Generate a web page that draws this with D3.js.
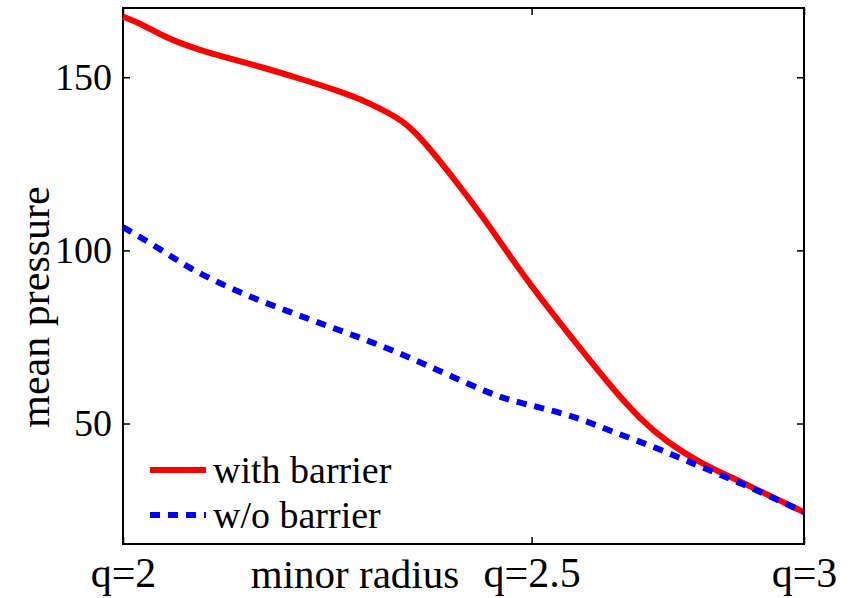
<!DOCTYPE html>
<html>
<head>
<meta charset="utf-8">
<script src="https://cdn.jsdelivr.net/npm/d3@7"></script>
<style>
  body { margin: 0; background: #fff; }
  text { font-family: "Liberation Serif", "Times New Roman", serif; fill: #000; }
</style>
</head>
<body>
<div id="chart"></div>
<script>
// normalized minor radius (0 = q=2 surface, 1 = q=3 surface)
let radius = [0, 0.025, 0.054, 0.084, 0.113, 0.142, 0.201, 0.260, 0.319, 0.348, 0.377, 0.407,
  0.432, 0.480, 0.529, 0.579, 0.627, 0.671, 0.715, 0.759, 0.799, 0.847, 0.896, 0.946, 1.0];
let withBarrier = [167.5, 165.6, 162.4, 159.8, 157.9, 156.2, 153.1, 149.6, 145.9, 143.7, 141.0, 137.9,
  133.8, 122.3, 109.6, 95.2, 82.7, 71.8, 61.0, 51.3, 44.6, 38.7, 34.2, 29.5, 24.4];

let radiusNo = [0, 0.050, 0.094, 0.142, 0.191, 0.241, 0.289, 0.338, 0.388, 0.436, 0.485, 0.535,
  0.568, 0.617, 0.671, 0.720, 0.774, 0.822, 0.872, 0.921, 0.969, 1.0];
let withoutBarrier = [106.7, 101.0, 95.2, 90.5, 86.2, 82.5, 79.0, 75.5, 71.8, 67.7, 63.4, 59.0,
  56.7, 54.4, 51.5, 47.5, 43.7, 39.7, 35.6, 31.6, 27.2, 24.4];

let xTickValues = [0, 0.6, 1];
let xTickLabels = ["q=2", "q=2.5", "q=3"];
let yTickValues = [50, 100, 150];
let seriesNames = ["with barrier", "w/o barrier"];

let svgWidth = 852;
let svgHeight = 598;
let margin = { top: 8, right: 48, bottom: 54, left: 123 };
let width = svgWidth - margin.left - margin.right;
let height = svgHeight - margin.top - margin.bottom;

let svg = d3.select("#chart").append("svg")
  .attr("width", svgWidth)
  .attr("height", svgHeight);

let g = svg.append("g")
  .attr("transform", `translate(${margin.left}, ${margin.top})`);

let x = d3.scaleLinear().domain([0, 1]).range([0, width]);
let y = d3.scaleLinear().domain([15.2, 170]).range([height, 0]);

// inward ticks on all four sides
let tickLen = 7;
g.append("g").attr("transform", `translate(0, ${height})`)
  .call(d3.axisBottom(x).tickValues(xTickValues).tickSizeInner(-tickLen).tickSizeOuter(0)
    .tickFormat((d, i) => xTickLabels[i]))
  .call(a => a.select(".domain").remove())
  .call(a => a.selectAll("text").attr("y", 43).attr("dy", 0)
    .style("font-size", "42px").attr("font-family", null));
g.append("g")
  .call(d3.axisTop(x).tickValues(xTickValues).tickSizeInner(-tickLen).tickSizeOuter(0).tickFormat(""))
  .call(a => a.select(".domain").remove());
g.append("g")
  .call(d3.axisLeft(y).tickValues(yTickValues).tickSizeInner(-tickLen).tickSizeOuter(0))
  .call(a => a.select(".domain").remove())
  .call(a => a.selectAll("text").attr("x", -11)
    .style("font-size", "38px").attr("font-family", null));
g.append("g").attr("transform", `translate(${width}, 0)`)
  .call(d3.axisRight(y).tickValues(yTickValues).tickSizeInner(-tickLen).tickSizeOuter(0).tickFormat(""))
  .call(a => a.select(".domain").remove());
g.selectAll(".tick line").attr("stroke", "#000").attr("stroke-width", 1.5);

// plot box
g.append("rect")
  .attr("width", width)
  .attr("height", height)
  .attr("fill", "none")
  .attr("stroke", "#000")
  .attr("stroke-width", 2);

let line = d3.line()
  .x(d => x(d[0]))
  .y(d => y(d[1]))
  .curve(d3.curveBasis);

g.append("path")
  .datum(d3.zip(radius, withBarrier))
  .attr("fill", "none")
  .attr("stroke", "#ff0000")
  .attr("stroke-width", 6)
  .attr("d", line);

g.append("path")
  .datum(d3.zip(radiusNo, withoutBarrier))
  .attr("fill", "none")
  .attr("stroke", "#0000ff")
  .attr("stroke-width", 6)
  .attr("stroke-dasharray", "10,8")
  .attr("d", line);

// axis labels
svg.append("text")
  .attr("x", 355)
  .attr("y", 588)
  .attr("text-anchor", "middle")
  .style("font-size", "41px")
  .text("minor radius");

svg.append("text")
  .attr("transform", "rotate(-90)")
  .attr("x", -307)
  .attr("y", 49)
  .attr("text-anchor", "middle")
  .style("font-size", "42px")
  .text("mean pressure");

// legend
let legend = svg.append("g").attr("transform", "translate(150, 470)");
let legendStyles = [
  { color: "#ff0000", dash: null },
  { color: "#0000ff", dash: "10,8" }
];
seriesNames.forEach(function(name, i) {
  let row = legend.append("g").attr("transform", `translate(0, ${i * 45})`);
  row.append("line")
    .attr("x1", 0).attr("x2", 56)
    .attr("stroke", legendStyles[i].color)
    .attr("stroke-width", 6)
    .attr("stroke-dasharray", legendStyles[i].dash);
  row.append("text")
    .attr("x", 63)
    .attr("y", 13)
    .style("font-size", "38px")
    .text(name);
});
</script>
</body>
</html>
